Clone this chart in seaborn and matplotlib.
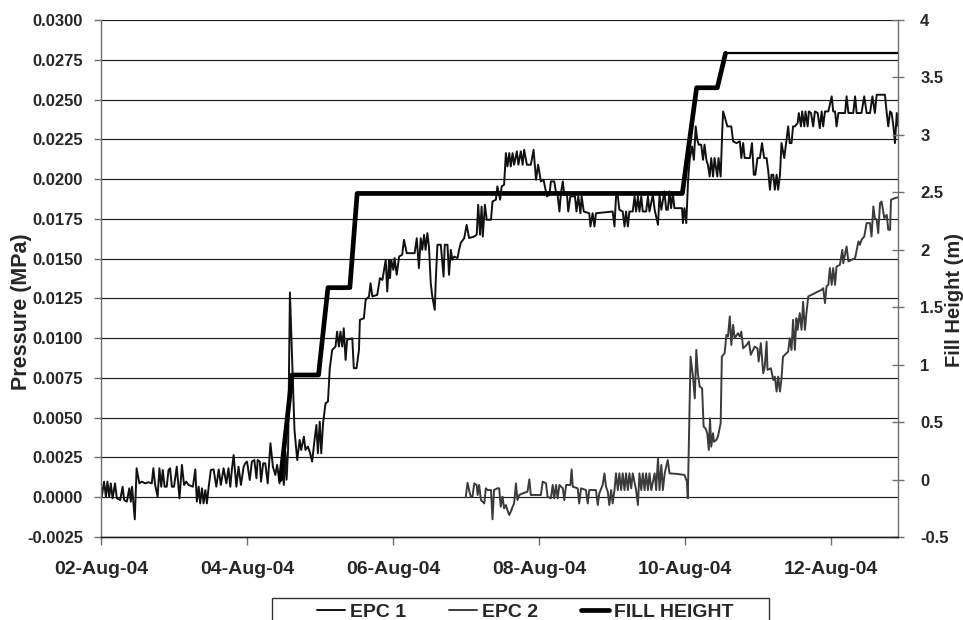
import matplotlib
matplotlib.use("Agg")
import matplotlib.pyplot as plt
import matplotlib.dates as mdates
from matplotlib.lines import Line2D
from matplotlib.patches import Rectangle
from matplotlib.ticker import MultipleLocator, FuncFormatter, FixedLocator
import pandas as pd
import seaborn as sns

# ---------------------------------------------------------------- data
start = pd.Timestamp("2004-08-02 00:00")
end_hours = 262.0  # right edge of the time axis, hours after start

# Earth pressure cell 1 readings: (hours after start, MPa)
epc1 = [
    (0.2, 0.00000), (1.0, 0.00098), (1.6, 0.00003), (2.1, 0.00098), (2.7, 0.00003),
    (3.2, 0.00087), (3.8, -0.00007), (4.6, 0.00087), (5.2, -0.00007), (6.3, -0.00018),
    (7.1, 0.00066), (7.6, -0.00018), (8.5, -0.00028), (9.3, 0.00056), (9.8, -0.00028),
    (10.2, 0.00066), (11.1, -0.00139), (11.7, 0.00182), (12.6, 0.00087), (13.4, 0.00098),
    (14.5, 0.00087), (15.6, 0.00094), (16.7, 0.00087), (17.2, 0.00182), (17.8, 0.00077),
    (18.6, 0.00003), (19.2, 0.00182), (19.8, 0.00066), (20.3, 0.00171), (20.9, 0.00066),
    (21.6, 0.00066), (22.2, 0.00171), (22.7, 0.00182), (23.3, 0.00066), (24.0, 0.00066),
    (24.9, 0.00192), (25.8, -0.00007), (26.6, 0.00203), (27.3, 0.00077), (28.0, 0.00098),
    (28.8, 0.00077), (30.2, 0.00066), (31.0, 0.00175), (31.5, -0.00028), (32.1, 0.00066),
    (32.6, -0.00039), (33.2, 0.00056), (33.7, -0.00039), (34.3, 0.00045), (34.8, -0.00039),
    (35.4, 0.00066), (36.1, 0.00171), (37.0, 0.00175), (37.9, 0.00066), (38.7, 0.00175),
    (39.4, 0.00077), (40.3, 0.00182), (41.2, 0.00087), (41.9, 0.00182), (42.5, 0.00066),
    (43.0, 0.00171), (43.6, 0.00265), (44.5, 0.00066), (45.2, 0.00192), (46.0, 0.00077),
    (46.9, 0.00192), (47.4, 0.00213), (48.0, 0.00224), (48.9, 0.00108), (49.6, 0.00224),
    (50.4, 0.00234), (51.1, 0.00119), (51.5, 0.00234), (52.2, 0.00224), (52.6, 0.00098),
    (53.3, 0.00213), (54.0, 0.00213), (54.8, 0.00087), (55.7, 0.00339), (56.5, 0.00192),
    (57.3, 0.00140), (57.9, 0.00203), (58.7, 0.00087), (59.5, 0.00234), (60.1, 0.00077),
    (60.6, 0.00286), (61.0, 0.00110), (61.5, 0.00300), (62.1, 0.01287), (63.6, 0.00423),
    (64.5, 0.00234), (65.3, 0.00360), (65.8, 0.00297), (66.7, 0.00381), (67.2, 0.00297),
    (68.0, 0.00318), (68.6, 0.00287), (69.4, 0.00224), (70.2, 0.00360), (70.8, 0.00454),
    (71.3, 0.00276), (71.9, 0.00475), (72.4, 0.00276), (73.0, 0.00465), (73.8, 0.00590),
    (74.6, 0.00601), (75.2, 0.00811), (76.0, 0.00926), (77.1, 0.00947), (77.6, 0.01041),
    (78.2, 0.00947), (78.7, 0.01041), (79.3, 0.00947), (79.8, 0.01062), (80.4, 0.00863),
    (80.9, 0.00989), (82.6, 0.00999), (83.1, 0.00811), (84.0, 0.00811), (84.8, 0.00926),
    (85.1, 0.01115), (86.4, 0.01125), (87.0, 0.01241), (88.1, 0.01262), (88.6, 0.01345),
    (89.2, 0.01262), (90.8, 0.01272), (91.7, 0.01377), (92.5, 0.01366), (93.6, 0.01492),
    (94.1, 0.01293), (94.7, 0.01492), (95.0, 0.01377), (95.4, 0.01492), (96.1, 0.01429),
    (96.5, 0.01503), (97.2, 0.01398), (98.0, 0.01513), (99.0, 0.01524), (99.6, 0.01618),
    (100.5, 0.01534), (101.8, 0.01534), (103.1, 0.01534), (103.8, 0.01628), (104.5, 0.01440),
    (105.1, 0.01628), (105.6, 0.01555), (106.2, 0.01649), (106.7, 0.01555), (107.3, 0.01660),
    (107.8, 0.01576), (108.4, 0.01345), (108.9, 0.01262), (109.7, 0.01178), (110.1, 0.01387),
    (110.6, 0.01587), (111.7, 0.01587), (112.6, 0.01387), (113.0, 0.01587), (113.9, 0.01587),
    (114.4, 0.01398), (115.0, 0.01555), (115.5, 0.01492), (116.1, 0.01513), (117.2, 0.01503),
    (117.7, 0.01555), (118.3, 0.01600), (119.4, 0.01628), (120.2, 0.01712), (121.0, 0.01629),
    (122.7, 0.01639), (123.5, 0.01650), (124.0, 0.01838), (124.6, 0.01650), (125.1, 0.01827),
    (125.5, 0.01639), (126.2, 0.01838), (126.8, 0.01744), (128.2, 0.01744), (128.7, 0.01859),
    (129.8, 0.01870), (130.3, 0.01954), (131.2, 0.01870), (131.7, 0.01954), (132.5, 0.01964),
    (133.1, 0.02163), (133.6, 0.02079), (134.2, 0.02163), (134.7, 0.02079), (135.3, 0.02163),
    (135.8, 0.02090), (136.7, 0.02174), (137.2, 0.02090), (138.0, 0.02174), (138.6, 0.02090),
    (139.1, 0.02184), (140.0, 0.02090), (141.3, 0.02090), (142.2, 0.02184), (143.0, 0.01996),
    (143.7, 0.02090), (144.6, 0.01985), (145.5, 0.01996), (145.9, 0.01954), (146.6, 0.01891),
    (147.4, 0.01901), (147.9, 0.01985), (149.0, 0.01985), (149.6, 0.01912), (150.1, 0.01901),
    (150.7, 0.01796), (151.2, 0.01912), (151.8, 0.01985), (152.3, 0.01901), (153.2, 0.01901),
    (153.6, 0.01796), (154.3, 0.01891), (155.8, 0.01891), (156.3, 0.01796), (156.9, 0.01891),
    (157.6, 0.01785), (158.0, 0.01891), (158.7, 0.01796), (160.5, 0.01785), (160.9, 0.01702),
    (161.6, 0.01785), (162.2, 0.01702), (162.7, 0.01785), (168.2, 0.01796), (168.8, 0.01702),
    (169.3, 0.01891), (169.9, 0.01891), (170.4, 0.01807), (171.5, 0.01796), (172.1, 0.01702),
    (172.6, 0.01796), (173.2, 0.01702), (173.7, 0.01796), (174.8, 0.01796), (175.4, 0.01891),
    (175.9, 0.01796), (176.5, 0.01891), (177.0, 0.01796), (177.6, 0.01891), (178.1, 0.01796),
    (179.2, 0.01796), (179.8, 0.01891), (180.3, 0.01796), (181.4, 0.01901), (182.0, 0.01807),
    (183.1, 0.01712), (183.6, 0.01901), (184.2, 0.01807), (185.2, 0.01922), (185.8, 0.01807),
    (186.3, 0.01807), (186.9, 0.01922), (187.4, 0.01817), (188.0, 0.01912), (188.5, 0.01817),
    (191.0, 0.01817), (191.3, 0.01723), (191.8, 0.01817), (192.4, 0.01723), (193.0, 0.01996),
    (193.5, 0.02121), (194.3, 0.02205), (194.9, 0.02121), (195.5, 0.02331), (196.0, 0.02247),
    (196.5, 0.02216), (197.3, 0.02216), (197.9, 0.02121), (198.4, 0.02216), (199.0, 0.02121),
    (199.5, 0.02090), (200.1, 0.02016), (200.6, 0.02132), (201.2, 0.02016), (201.7, 0.02132),
    (202.6, 0.02016), (203.0, 0.02132), (203.7, 0.02016), (204.2, 0.02289), (204.5, 0.02425),
    (205.3, 0.02373), (205.9, 0.02331), (207.2, 0.02331), (207.8, 0.02237), (208.9, 0.02226),
    (210.0, 0.02237), (210.5, 0.02132), (211.1, 0.02226), (211.6, 0.02132), (213.3, 0.02132),
    (214.0, 0.02226), (214.6, 0.02027), (215.1, 0.02027), (215.8, 0.02132), (216.6, 0.02132),
    (217.3, 0.02226), (218.0, 0.02132), (218.8, 0.02132), (219.3, 0.02058), (219.9, 0.01933),
    (220.4, 0.02027), (221.0, 0.02027), (221.5, 0.01933), (222.1, 0.02027), (222.6, 0.01933),
    (223.2, 0.02027), (223.7, 0.02226), (224.6, 0.02132), (225.3, 0.02237), (225.9, 0.02331),
    (226.4, 0.02226), (227.0, 0.02226), (227.5, 0.02331), (228.1, 0.02331), (229.0, 0.02352),
    (229.4, 0.02415), (230.1, 0.02331), (230.5, 0.02425), (231.2, 0.02331), (231.6, 0.02425),
    (232.3, 0.02331), (232.7, 0.02425), (233.4, 0.02415), (234.1, 0.02331), (234.7, 0.02425),
    (235.6, 0.02415), (236.3, 0.02320), (236.9, 0.02425), (237.4, 0.02331), (238.0, 0.02425),
    (239.1, 0.02425), (240.2, 0.02520), (240.7, 0.02425), (241.3, 0.02425), (241.8, 0.02331),
    (242.4, 0.02415), (244.6, 0.02415), (245.1, 0.02520), (245.7, 0.02415), (247.3, 0.02415),
    (247.9, 0.02520), (248.4, 0.02415), (250.0, 0.02415), (250.9, 0.02520), (251.7, 0.02415),
    (252.8, 0.02415), (253.6, 0.02520), (254.4, 0.02415), (255.0, 0.02530), (257.7, 0.02530),
    (258.3, 0.02415), (258.8, 0.02331), (259.4, 0.02425), (259.9, 0.02415), (260.5, 0.02331),
    (261.0, 0.02226), (261.6, 0.02415), (262.1, 0.02331), (262.7, 0.02373),
]

# Earth pressure cell 2 readings: (hours after start, MPa)
epc2 = [
    (119.9, 0.00000), (120.5, 0.00091), (121.0, 0.00045), (121.6, 0.00000), (122.1, 0.00003),
    (122.7, 0.00087), (123.5, 0.00077), (123.8, 0.00014), (124.3, 0.00077), (124.9, -0.00018),
    (125.4, -0.00028), (126.0, -0.00039), (126.5, 0.00056), (127.1, 0.00045), (128.2, 0.00045),
    (128.7, -0.00139), (129.2, 0.00045), (130.3, 0.00056), (130.9, 0.00056), (131.4, -0.00060),
    (132.0, 0.00003), (132.5, -0.00070), (133.1, -0.00049), (133.6, -0.00081), (134.2, -0.00112),
    (134.7, -0.00091), (135.3, -0.00060), (135.8, -0.00039), (136.4, 0.00087), (136.9, -0.00018),
    (137.5, 0.00014), (138.6, 0.00024), (140.2, 0.00035), (140.8, 0.00112), (141.3, 0.00014),
    (144.6, 0.00014), (145.2, 0.00098), (146.3, 0.00087), (146.8, 0.00003), (147.9, -0.00007),
    (148.5, 0.00077), (149.0, -0.00007), (149.6, 0.00077), (150.1, -0.00007), (150.7, 0.00077),
    (151.8, 0.00056), (152.3, -0.00018), (152.9, 0.00077), (154.3, 0.00077), (154.7, 0.00175),
    (155.1, 0.00066), (156.7, 0.00056), (157.2, -0.00039), (157.8, 0.00056), (159.4, 0.00045),
    (160.0, -0.00039), (160.5, 0.00045), (162.7, 0.00045), (163.3, -0.00049), (163.8, 0.00024),
    (164.9, 0.00077), (165.5, 0.00150), (166.0, 0.00066), (166.6, 0.00035), (167.1, -0.00049),
    (167.7, 0.00045), (168.2, -0.00039), (168.8, 0.00045), (169.3, 0.00150), (169.9, 0.00045),
    (170.4, 0.00150), (171.0, 0.00045), (171.5, 0.00150), (172.1, 0.00045), (172.6, 0.00150),
    (173.2, 0.00045), (173.7, 0.00150), (174.3, 0.00056), (174.8, 0.00150), (175.9, 0.00045),
    (176.5, -0.00049), (177.0, 0.00150), (177.6, 0.00045), (178.1, 0.00150), (178.7, 0.00045),
    (179.2, 0.00150), (179.8, 0.00045), (180.3, 0.00150), (180.9, 0.00045), (182.0, 0.00150),
    (182.5, 0.00045), (183.1, 0.00245), (183.6, 0.00045), (184.2, 0.00203), (184.7, 0.00045),
    (185.3, 0.00150), (186.3, 0.00234), (186.9, 0.00150), (189.6, 0.00146), (191.8, 0.00140),
    (192.6, 0.00098), (192.9, -0.00007), (193.8, 0.00884), (194.6, 0.00758), (195.2, 0.00622),
    (195.7, 0.00926), (196.2, 0.00779), (196.8, 0.00695), (197.6, 0.00685), (198.1, 0.00444),
    (198.7, 0.00433), (199.3, 0.00402), (199.8, 0.00297), (200.2, 0.00496), (200.6, 0.00318),
    (201.2, 0.00402), (201.5, 0.00349), (202.3, 0.00360), (202.8, 0.00381), (203.7, 0.00465),
    (204.1, 0.00884), (205.0, 0.00905), (205.6, 0.01020), (206.1, 0.01010), (206.7, 0.01136),
    (207.2, 0.00957), (207.8, 0.01083), (208.3, 0.00999), (209.4, 0.01031), (210.0, 0.01010),
    (210.5, 0.01041), (211.1, 0.00936), (212.2, 0.00957), (213.0, 0.00978), (213.6, 0.00895),
    (214.9, 0.00947), (215.8, 0.00936), (216.2, 0.00853), (216.9, 0.00968), (217.7, 0.00779),
    (218.2, 0.00821), (218.8, 0.00978), (219.1, 0.00800), (220.2, 0.00811), (221.0, 0.00737),
    (221.5, 0.00758), (222.1, 0.00664), (222.6, 0.00758), (223.2, 0.00664), (223.7, 0.00748),
    (224.2, 0.00884), (224.8, 0.00895), (225.9, 0.00915), (226.4, 0.00999), (227.0, 0.00926),
    (227.5, 0.01115), (228.1, 0.00926), (228.6, 0.01125), (229.0, 0.01052), (229.7, 0.01157),
    (230.3, 0.01052), (230.8, 0.01229), (231.4, 0.01052), (231.9, 0.01157), (232.5, 0.01262),
    (234.7, 0.01283), (236.9, 0.01304), (237.4, 0.01314), (238.0, 0.01220), (238.5, 0.01325),
    (239.1, 0.01335), (239.6, 0.01440), (240.2, 0.01335), (240.7, 0.01440), (241.3, 0.01335),
    (241.8, 0.01450), (242.9, 0.01461), (243.7, 0.01555), (244.0, 0.01471), (245.1, 0.01576),
    (245.7, 0.01482), (247.9, 0.01503), (249.0, 0.01608), (249.5, 0.01587), (250.0, 0.01618),
    (250.9, 0.01639), (251.7, 0.01723), (252.8, 0.01723), (253.3, 0.01639), (253.9, 0.01828),
    (254.4, 0.01754), (255.0, 0.01744), (255.5, 0.01660), (256.1, 0.01849), (256.6, 0.01859),
    (257.5, 0.01754), (258.3, 0.01775), (258.8, 0.01681), (259.4, 0.01681), (259.7, 0.01870),
    (261.0, 0.01880), (262.1, 0.01886),
]

# Fill height above the cells (hours after start, m)
fill_hours = [59.0, 62.8, 71.5, 74.6, 81.8, 84.2, 191.1, 195.8, 202.6, 205.3, 262.6]
fill_m = [0.00, 0.91, 0.91, 1.67, 1.67, 2.49, 2.49, 3.41, 3.41, 3.71, 3.71]

tick_dates = ["2004-08-02", "2004-08-04", "2004-08-06",
              "2004-08-08", "2004-08-10", "2004-08-12"]

series_labels = ["EPC 1", "EPC 2", "FILL HEIGHT"]

epc1_hours, epc1_mpa = map(list, zip(*epc1))
epc2_hours, epc2_mpa = map(list, zip(*epc2))

# ---------------------------------------------------------------- style
sns.set_style("white")
plt.rcParams["font.family"] = ["Liberation Sans", "DejaVu Sans"]
plt.rcParams["font.weight"] = "bold"
plt.rcParams["axes.labelweight"] = "bold"

c_epc1 = "#111111"
c_epc2 = "#3b3b3b"
c_fill = "#000000"
c_axis = "#6e6e6e"

fig = plt.figure(figsize=(9.63, 6.2), dpi=100)
ax = fig.add_axes([0.1049, 0.1339, 0.8276, 0.8339])
ax2 = ax.twinx()

t1 = start + pd.to_timedelta(epc1_hours, unit="h")
t2 = start + pd.to_timedelta(epc2_hours, unit="h")
tf = start + pd.to_timedelta(fill_hours, unit="h")

sns.lineplot(x=t1, y=epc1_mpa, ax=ax, color=c_epc1, linewidth=1.4,
             estimator=None, legend=False)
sns.lineplot(x=t2, y=epc2_mpa, ax=ax, color=c_epc2, linewidth=1.4,
             estimator=None, legend=False)
# fill height: heavy line while filling, lighter line for the final level
sns.lineplot(x=tf[:-1], y=fill_m[:-1], ax=ax2, color=c_fill, linewidth=3.4,
             estimator=None, legend=False)
sns.lineplot(x=tf[-2:], y=fill_m[-2:], ax=ax2, color=c_fill, linewidth=1.6,
             estimator=None, legend=False)

# ---------------------------------------------------------------- axes
ax.set_xlim(start, start + pd.Timedelta(hours=end_hours))
ax.set_ylim(-0.0025, 0.0300)
ax2.set_ylim(-0.5, 4.0)

ax.yaxis.set_major_locator(MultipleLocator(0.0025))
ax.yaxis.set_major_formatter(FuncFormatter(lambda v, p: f"{round(v, 4) + 0:.4f}"))
ax2.yaxis.set_major_locator(MultipleLocator(0.5))
ax2.yaxis.set_major_formatter(FuncFormatter(lambda v, p: f"{round(v, 2) + 0:g}"))

ax.xaxis.set_major_locator(FixedLocator(mdates.date2num(pd.to_datetime(tick_dates))))
ax.xaxis.set_major_formatter(mdates.DateFormatter("%d-%b-%y"))

ax.grid(axis="y", color="#1c1c1c", linewidth=0.85)
ax.grid(axis="x", visible=False)
ax2.grid(False)

ax.set_xlabel("")
ax.set_ylabel("Pressure (MPa)", fontsize=15.5, fontweight="bold")
ax.yaxis.set_label_coords(-0.087, 0.435)
ax2.set_ylabel("Fill Height (m)", fontsize=14.5, fontweight="bold")
ax2.yaxis.set_label_coords(1.059, 0.458)

ax.tick_params(axis="y", direction="out", length=5, width=1, color=c_axis,
               pad=8, labelsize=12, left=True)
ax.tick_params(axis="x", direction="out", length=6, width=1, color=c_axis,
               pad=11.5, labelsize=14, bottom=True)
ax2.tick_params(axis="y", direction="inout", length=8, width=1, color=c_axis,
                pad=12, labelsize=12, right=True)

for a in (ax, ax2):
    a.spines["top"].set_visible(False)
    for s in ("left", "right", "bottom"):
        a.spines[s].set_color(c_axis)
        a.spines[s].set_linewidth(1.0)
ax2.spines["left"].set_visible(False)
ax.spines["right"].set_visible(False)
ax2.spines["bottom"].set_color("#1c1c1c")

for lab in ax.get_xticklabels() + ax.get_yticklabels() + ax2.get_yticklabels():
    lab.set_fontweight("bold")

# ---------------------------------------------------------------- legend
handles = [
    Line2D([], [], color=c_epc1, linewidth=1.4),
    Line2D([], [], color=c_epc2, linewidth=1.4),
    Line2D([], [], color=c_fill, linewidth=3.4),
]
leg = fig.legend(handles, series_labels, loc="upper center",
                 bbox_to_anchor=(0.5455, 0.0385), ncol=3, frameon=False,
                 prop={"size": 14, "weight": "bold"}, handlelength=1.45,
                 handletextpad=0.25, columnspacing=2.2, borderpad=0.35,
                 borderaxespad=0)
# wide legend box running off the bottom edge of the figure
fig.patches.append(Rectangle((0.2825, -0.05), 0.516, 0.0855,
                             transform=fig.transFigure, fill=False,
                             edgecolor="#333333", linewidth=1.0))

fig.savefig("out.png", dpi=100)
